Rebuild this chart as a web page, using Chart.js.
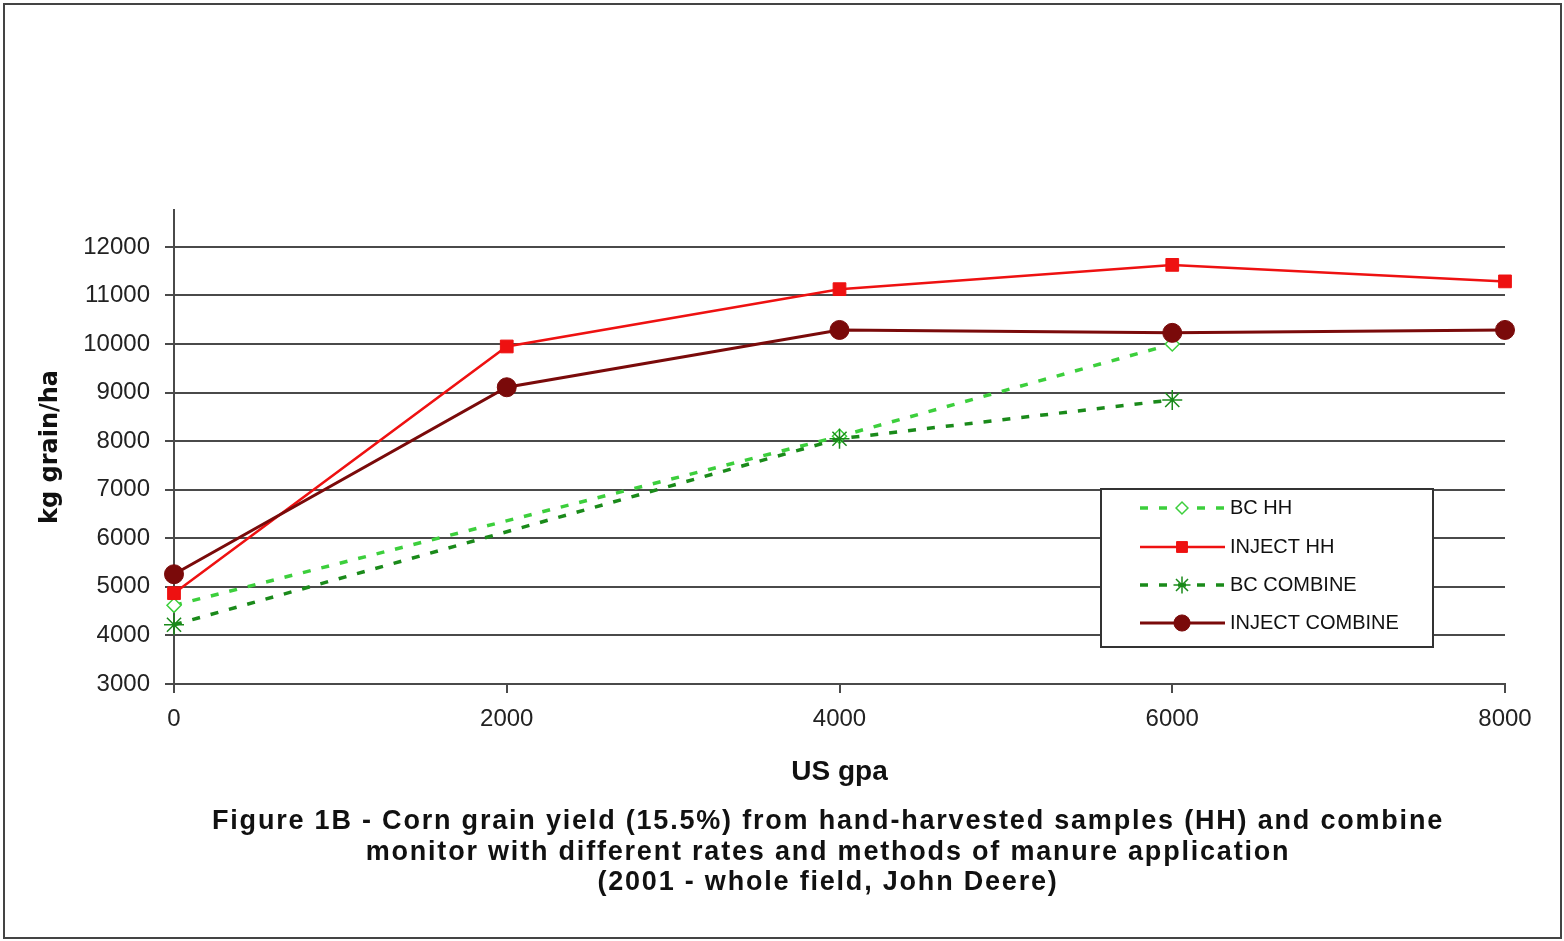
<!DOCTYPE html>
<html>
<head>
<meta charset="utf-8">
<script src="https://cdn.jsdelivr.net/npm/chart.js@4.4.1/dist/chart.umd.min.js"></script>
<style>
	body { margin: 0; background: #fff; }
	#wrap { position: relative; width: 1564px; height: 941px; }
	#frame { position: absolute; left: 3px; top: 3px; width: 1559px; height: 936px; box-sizing: border-box; border: 2px solid #444; pointer-events: none; }
</style>
</head>
<body>
<div id="wrap">
	<canvas id="yieldChart" width="1564" height="941"></canvas>
	<div id="frame"></div>
</div>
<script>
// values (kg grain/ha at each US gpa rate)
const gpa = [0, 2000, 4000, 6000, 8000];
const bcHH = [4620, null, 8100, 10000, null];
const injectHH = [4870, 9950, 11130, 11630, 11290];
const bcCombine = [4220, null, 8050, 8850, null];
const injectCombine = [5260, 9110, 10290, 10230, 10290];

const seriesLabels = ["BC HH", "INJECT HH", "BC COMBINE", "INJECT COMBINE"];
const xTicks = [0, 2000, 4000, 6000, 8000];
const yTicks = [3000, 4000, 5000, 6000, 7000, 8000, 9000, 10000, 11000, 12000];
const caption = [
	"Figure 1B - Corn grain yield (15.5%) from hand-harvested samples (HH) and combine",
	"monitor with different rates and methods of manure application",
	"(2001 - whole field, John Deere)"
];

const toPoints = arr => gpa.map((x, i) => ({ x, y: arr[i] }));

const gridColor = "#4a4a4a";
const textColor = "#222";

// legend box drawn inside the plot, like the Excel original
const boxLegend = {
	id: "boxLegend",
	afterDraw(chart) {
		const ctx = chart.ctx;
		const rows = [508, 547, 585, 623];
		ctx.save();
		ctx.fillStyle = "#fff";
		ctx.strokeStyle = "#333";
		ctx.lineWidth = 2;
		ctx.fillRect(1101, 489, 332, 158);
		ctx.strokeRect(1101, 489, 332, 158);
		chart.data.datasets.forEach((ds, i) => {
			const y = rows[i];
			ctx.setLineDash(ds.borderDash || []);
			ctx.strokeStyle = ds.borderColor;
			ctx.lineWidth = ds.borderWidth;
			ctx.beginPath();
			ctx.moveTo(1140, y);
			ctx.lineTo(1225, y);
			ctx.stroke();
			ctx.setLineDash([]);
			ctx.fillStyle = ds.pointBackgroundColor;
			ctx.strokeStyle = ds.pointBorderColor;
			ctx.lineWidth = ds.pointBorderWidth;
			Chart.helpers.drawPoint(ctx, {
				pointStyle: ds.pointStyle,
				radius: ds.pointRadius * 0.85,
				rotation: 0,
				borderWidth: ds.pointBorderWidth
			}, 1182, y);
			ctx.fillStyle = "#111";
			ctx.font = '20px "Liberation Sans"';
			ctx.textAlign = "left";
			ctx.textBaseline = "middle";
			ctx.fillText(ds.label, 1230, y);
		});
		ctx.restore();
	}
};

const captionPlugin = {
	id: "caption",
	afterDraw(chart) {
		const ctx = chart.ctx;
		const lineY = [822, 852.5, 883];
		ctx.save();
		ctx.fillStyle = "#111";
		ctx.font = 'bold 27px "Liberation Sans"';
		ctx.letterSpacing = "1.8px";
		ctx.textAlign = "center";
		ctx.textBaseline = "middle";
		caption.forEach((line, i) => ctx.fillText(line, 828, lineY[i]));
		ctx.restore();
	}
};

new Chart(document.getElementById("yieldChart"), {
	type: "line",
	data: {
		datasets: [
			{
				label: seriesLabels[0],
				data: toPoints(bcHH),
				borderColor: "#3ccf3c",
				borderWidth: 3.5,
				borderDash: [8, 11],
				pointStyle: "rectRot",
				pointRadius: 7,
				pointBackgroundColor: "#fff",
				pointBorderColor: "#3ccf3c",
				pointBorderWidth: 1.5,
				spanGaps: true,
				order: 4
			},
			{
				label: seriesLabels[1],
				data: toPoints(injectHH),
				borderColor: "#ee1111",
				borderWidth: 2.5,
				pointStyle: "rect",
				pointRadius: 9,
				pointBackgroundColor: "#ee1111",
				pointBorderColor: "#ee1111",
				pointBorderWidth: 1,
				order: 2
			},
			{
				label: seriesLabels[2],
				data: toPoints(bcCombine),
				borderColor: "#1a8a1a",
				borderWidth: 3.5,
				borderDash: [8, 11],
				pointStyle: "star",
				pointRadius: 10,
				pointBackgroundColor: "#1a8a1a",
				pointBorderColor: "#1a8a1a",
				pointBorderWidth: 1.5,
				spanGaps: true,
				order: 3
			},
			{
				label: seriesLabels[3],
				data: toPoints(injectCombine),
				borderColor: "#7a0a0a",
				borderWidth: 3,
				pointStyle: "circle",
				pointRadius: 9.5,
				pointBackgroundColor: "#7a0a0a",
				pointBorderColor: "#7a0a0a",
				pointBorderWidth: 1,
				order: 1
			}
		].map(ds => Object.assign(ds, { tension: 0, clip: false, fill: false }))
	},
	options: {
		responsive: false,
		animation: false,
		devicePixelRatio: 1,
		layout: { padding: { top: 210, left: 0, right: 59, bottom: 134 } },
		plugins: {
			legend: { display: false },
			tooltip: { enabled: false }
		},
		scales: {
			x: {
				type: "linear",
				min: 0,
				max: 8000,
				afterBuildTicks: scale => { scale.ticks = xTicks.map(v => ({ value: v })); },
				afterFit: scale => {
					scale.height = 123;
					scale.paddingLeft = 0;
					scale.paddingRight = 0;
				},
				grid: { drawOnChartArea: false, color: gridColor, lineWidth: 2, tickLength: 9 },
				border: { color: gridColor, width: 2 },
				ticks: {
					color: textColor,
					font: { family: "Liberation Sans", size: 24 },
					padding: 12,
					maxRotation: 0,
					callback: v => String(v)
				},
				title: {
					display: true,
					text: "US gpa",
					color: "#111",
					font: { family: "Liberation Sans", size: 28, weight: "bold" },
					padding: { top: 0, bottom: 18 }
				}
			},
			y: {
				min: 3000,
				max: 12760,
				afterBuildTicks: scale => { scale.ticks = yTicks.map(v => ({ value: v })); },
				afterFit: scale => {
					scale.width = 174;
					scale.paddingTop = 0;
					scale.paddingBottom = 0;
				},
				grid: { color: gridColor, lineWidth: 2, tickLength: 9 },
				border: { color: gridColor, width: 2 },
				ticks: {
					color: textColor,
					font: { family: "Liberation Sans", size: 24 },
					padding: 15,
					callback: v => String(v)
				},
				title: {
					display: true,
					text: "kg grain/ha",
					color: "#111",
					font: { family: "DejaVu Sans", size: 24, weight: "bold" },
					padding: { top: 36, bottom: 0 }
				}
			}
		}
	},
	plugins: [boxLegend, captionPlugin]
});
</script>
</body>
</html>
